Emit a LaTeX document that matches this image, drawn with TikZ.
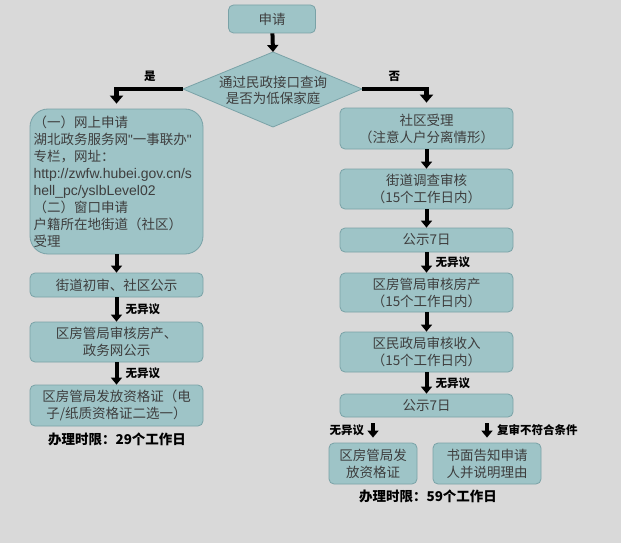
\documentclass[tikz,border=0pt]{standalone}
\usepackage{fontspec}
\setmainfont{Noto Sans CJK SC}
\newfontfamily\latinfont{Liberation Sans}
\usetikzlibrary{arrows.meta}
\definecolor{BackClr}{RGB}{217,217,217}
\definecolor{BoxClr}{RGB}{158,196,199}
\definecolor{EdgeClr}{RGB}{122,162,167}
\definecolor{TextClr}{RGB}{62,62,62}
\newcommand{\sq}{{\latinfont\char34}}

\begin{document}
\begin{tikzpicture}[x=1pt,y=-1pt,
  box/.style={draw=EdgeClr,line width=0.8pt,fill=BoxClr,rounded corners=5pt,text=TextClr,
    align=center,inner sep=0pt,minimum width=173pt,font=\fontsize{13.5}{17}\selectfont},
  flow/.style={line width=4pt,-{Triangle[width=11pt,length=7pt]}},
  branch/.style={line width=4.5pt,-{Triangle[width=13pt,length=8pt]}},
  lbl/.style={font=\fontsize{11.5}{14}\selectfont\bfseries,text=black,inner sep=0pt},
  limit/.style={font=\fontsize{13.5}{16}\selectfont\bfseries,text=black,inner sep=0pt}]
\fill[BackClr] (0,0) rectangle (621,543);
\useasboundingbox (0,0) rectangle (621,543);

\node[box,minimum width=87pt,minimum height=28pt] (apply) at (272,19) {申请};

% decision
\coordinate (chkT) at (273,52);
\coordinate (chkR) at (362,89);
\coordinate (chkB) at (273,127);
\coordinate (chkL) at (183,89);
\filldraw[draw=EdgeClr,fill=BoxClr,line width=0.8pt] (chkT) -- (chkR) -- (chkB) -- (chkL) -- cycle;
\node[text=TextClr,align=center,inner sep=0pt,font=\fontsize{13.5}{16}\selectfont] (check) at (273,90) {通过民政接口查询\\是否为低保家庭};

% left column
\node[box,rounded corners=18pt,minimum height=145pt,text width=166pt,align=left] (web) at (116.5,181.5)
  {（一）网上申请\\湖北政务服务网\sq 一事联办\sq\\专栏，网址：\\{\latinfont\fontsize{14}{17}\selectfont http://zwfw.hubei.gov.cn/s}\\{\latinfont\fontsize{14}{17}\selectfont hell\_pc/yslbLevel02}\\（二）窗口申请\\户籍所在地街道（社区）\\受理};
\node[box,minimum height=24pt] (street1) at (116.5,285) {街道初审、社区公示};
\node[box,minimum height=40pt] (house1) at (116.5,342) {区房管局审核房产、\\政务网公示};
\node[box,minimum height=41pt] (issueL) at (116.5,405.5) {区房管局发放资格证（电\\子/纸质资格证二选一）};
\node[limit] (sumL) at (117,439) {办理时限：29个工作日};

% right column
\node[box,minimum height=41pt] (accept) at (426.5,128.5) {社区受理\\（注意人户分离情形）};
\node[box,minimum height=40pt] (survey) at (426.5,189) {街道调查审核\\（15个工作日内）};
\node[box,minimum height=24pt] (pub1) at (426.5,240) {公示7日};
\node[box,minimum height=39pt] (house2) at (426.5,292.5) {区房管局审核房产\\（15个工作日内）};
\node[box,minimum height=40pt] (income) at (426.5,352) {区民政局审核收入\\（15个工作日内）};
\node[box,minimum height=23pt] (pub2) at (426.5,405.5) {公示7日};
\node[box,minimum width=88pt,minimum height=41pt] (issueR) at (373,463.5) {区房管局发\\放资格证};
\node[box,minimum width=108pt,minimum height=41pt] (notice) at (487,463.5) {书面告知申请\\人并说明理由};
\node[limit] (sumR) at (428,496) {办理时限：59个工作日};

% connectors
\draw[flow] (apply) -- (chkT);
\draw[branch,shorten >=5pt] (chkL) -| node[lbl,pos=0.25,above=5pt] {是} (web);
\draw[branch,shorten >=5pt] (chkR) -| node[lbl,pos=0.25,above=5pt] {否} (accept);
\draw[flow] (web) -- (street1);
\draw[flow] (street1) -- node[lbl,right=7pt] {无异议} (house1);
\draw[flow] (house1) -- node[lbl,right=7pt] {无异议} (issueL);
\draw[flow] (accept) -- (survey);
\draw[flow] (survey) -- (pub1);
\draw[flow] (pub1) -- node[lbl,right=7pt] {无异议} (house2);
\draw[flow] (house2) -- (income);
\draw[flow] (income) -- node[lbl,right=7pt] {无异议} (pub2);
\draw[flow,shorten <=6pt,shorten >=5pt] (issueR.north |- pub2.south) -- node[lbl,left=7pt] {无异议} (issueR.north);
\draw[flow,shorten <=6pt,shorten >=5pt] (notice.north |- pub2.south) -- node[lbl,right=8pt] {复审不符合条件} (notice.north);
\end{tikzpicture}
\end{document}
